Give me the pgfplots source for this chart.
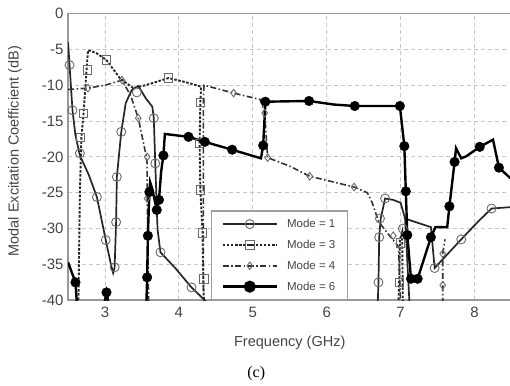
\documentclass[border=0pt]{standalone}
\usepackage{fontspec}
\setmainfont{Liberation Sans}
\newfontfamily\seriffont{Liberation Serif}
\usepackage{pgfplots}
\usepackage{pgfplotstable}
\pgfplotsset{compat=1.18}

% ---------------- Mode 1 ----------------
\pgfplotstableread{
x y
2.50 -4.0
2.52 -7.2
2.56 -13.5
2.60 -17.0
2.66 -19.8
2.78 -22.5
2.89 -25.6
3.01 -31.6
3.08 -35.0
3.11 -36.2
3.13 -35.4
3.15 -29.1
3.16 -22.8
3.22 -16.5
3.28 -12.5
3.36 -10.7
3.45 -10.1
3.55 -11.8
3.64 -13.0
3.66 -14.6
3.68 -20.9
3.71 -30.0
3.75 -33.3
3.95 -35.5
4.17 -38.2
4.40 -40.5
nan nan
6.69 -40.5
6.70 -37.5
6.71 -31.2
6.73 -28.6
6.79 -25.8
6.90 -26.0
7.00 -26.4
7.06 -28.6
7.41 -29.8
7.46 -35.5
7.55 -34.5
7.82 -31.5
8.05 -29.0
8.23 -27.2
8.50 -27.0
nan nan
7.06 -28.6
7.07 -30.5
7.12 -40.5
}\mOneLine
\pgfplotstableread{
x y
2.52 -7.2
2.56 -13.5
2.66 -19.5
2.89 -25.6
3.01 -31.6
3.13 -35.4
3.15 -29.1
3.16 -22.8
3.22 -16.5
3.43 -11.0
3.66 -14.6
3.68 -20.9
3.75 -33.3
4.17 -38.2
6.70 -37.5
6.71 -31.2
6.72 -28.6
6.79 -25.8
7.03 -30.0
7.46 -35.5
7.82 -31.5
8.23 -27.2
}\mOneMark
% ---------------- Mode 3 ----------------
\pgfplotstableread{
x y
2.64 -40.5
2.66 -25.0
2.68 -17.3
2.71 -13.9
2.75 -7.9
2.77 -5.1
2.88 -5.5
3.02 -6.5
3.20 -9.0
3.38 -10.4
3.55 -10.0
3.86 -9.0
4.10 -9.6
4.30 -10.2
4.29 -12.4
4.28 -18.1
4.29 -24.6
4.32 -30.6
4.33 -37.0
4.34 -40.5
nan nan
6.97 -40.5
6.98 -37.5
6.99 -31.6
7.02 -30.5
7.03 -40.5
}\mThreeLine
\pgfplotstableread{
x y
2.67 -17.3
2.71 -13.9
2.76 -7.9
3.02 -6.5
3.86 -9.0
4.29 -12.4
4.28 -18.1
4.29 -24.6
4.32 -30.6
4.34 -37.0
6.98 -37.5
7.00 -32.0
}\mThreeMark
% ---------------- Mode 4 ----------------
\pgfplotstableread{
x y
2.50 -10.6
2.77 -10.4
3.00 -10.0
3.23 -9.3
3.35 -11.5
3.45 -14.6
3.55 -19.5
3.57 -20.9
3.57 -25.8
3.58 -31.2
3.59 -40.5
nan nan
4.33 -40.5
4.33 -12.0
4.34 -10.0
4.74 -11.1
5.10 -12.0
5.16 -13.9
5.20 -20.1
5.50 -21.3
5.77 -22.7
6.37 -24.2
6.55 -25.0
6.62 -26.5
6.70 -29.0
6.85 -31.0
6.97 -32.5
7.00 -40.5
nan nan
7.57 -40.5
7.57 -37.9
7.57 -33.5
7.60 -31.5
}\mFourLine
\pgfplotstableread{
x y
2.77 -10.4
3.23 -9.3
3.45 -14.6
3.57 -20.0
3.57 -25.8
3.58 -31.2
4.74 -11.1
5.16 -13.9
5.20 -20.1
5.77 -22.7
6.37 -24.2
6.90 -31.0
7.57 -33.5
7.57 -37.9
}\mFourMark
% ---------------- Mode 6 ----------------
\pgfplotstableread{
x y
2.50 -34.7
2.60 -37.5
2.62 -40.5
nan nan
2.99 -40.5
3.02 -38.9
3.05 -40.5
nan nan
3.56 -40.5
3.57 -36.8
3.58 -31.0
3.60 -24.9
3.61 -23.5
3.64 -24.5
3.70 -27.4
3.73 -26.0
3.76 -22.0
3.79 -19.8
3.81 -16.8
4.13 -17.2
4.35 -17.9
4.72 -19.0
5.11 -20.2
5.14 -18.4
5.17 -12.3
5.76 -12.2
6.10 -12.7
6.38 -12.9
6.99 -12.9
7.05 -18.5
7.07 -24.8
7.09 -30.9
7.14 -37.0
7.23 -37.0
7.41 -31.2
7.47 -29.8
7.63 -29.8
7.66 -26.9
7.73 -20.7
7.75 -18.8
7.82 -20.2
7.89 -19.9
8.07 -18.6
8.25 -17.6
8.33 -21.5
8.52 -23.3
}\mSixLine
\pgfplotstableread{
x y
2.60 -37.5
3.02 -38.9
3.57 -36.8
3.58 -31.0
3.60 -24.9
3.70 -27.4
3.73 -26.0
3.79 -19.8
4.13 -17.2
4.35 -17.9
4.72 -19.0
5.14 -18.4
5.17 -12.3
5.76 -12.2
6.38 -12.9
6.99 -12.9
7.05 -18.5
7.07 -24.8
7.09 -30.9
7.14 -37.0
7.23 -37.0
7.41 -31.2
7.66 -26.9
7.73 -20.7
8.07 -18.6
8.33 -21.5
}\mSixMark

\definecolor{txt}{HTML}{454545}
\definecolor{mkgray}{HTML}{6A6A6A}

\pgfplotsset{
  m1l/.style={black!85, line width=1.7pt, solid},
  m1m/.style={mark=o, mark size=4.5pt, mark options={draw=mkgray, line width=0.9pt, solid, fill=none}},
  m3l/.style={black!85, line width=1.9pt, dash pattern=on 2.5pt off 1.6pt},
  m3m/.style={mark=square, mark size=4.2pt, mark options={draw=mkgray, line width=0.9pt, solid, fill=none}},
  m4l/.style={black!80, line width=1.6pt, dash pattern=on 6pt off 2.5pt on 1.5pt off 2.5pt},
  m4m/.style={mark=diamond, mark size=3.8pt, mark options={draw=mkgray, line width=0.9pt, solid, fill=none}},
  m6l/.style={black, line width=2.4pt, solid},
  m6m/.style={mark=*, mark size=4.8pt, mark options={draw=black, fill=black, solid}},
}

\begin{document}
\begin{tikzpicture}
\useasboundingbox (-68pt,-85pt) rectangle (441.5pt,300pt);
\begin{axis}[
  scale only axis,
  width=443pt, height=286.5pt,
  xmin=2.5, xmax=8.5, ymin=-40, ymax=0,
  xtick={3,4,5,6,7,8},
  ytick={0,-5,-10,-15,-20,-25,-30,-35,-40},
  major tick length=0pt,
  grid=major,
  major grid style={gray!45, line width=1pt, dash pattern=on 4pt off 3pt},
  axis line style={gray!80, line width=1.6pt},
  /pgf/number format/assume math mode=true,
  tick label style={font=\fontsize{15}{17}\selectfont, text=txt},
  xticklabel style={yshift=-3pt},
  yticklabel style={xshift=-1pt},
  xlabel={Frequency (GHz)},
  ylabel={Modal Excitation Coefficient (dB)},
  label style={font=\fontsize{14.5}{16}\selectfont, text=txt},
  xlabel style={at={(axis description cs:0.5,0)}, anchor=center, yshift=-42pt},
  ylabel style={at={(axis description cs:-0.12,0.52)}, anchor=center},
  unbounded coords=jump,
  legend cell align=left,
  legend image code/.code={\draw[mark repeat=2, mark phase=2, #1] plot coordinates {(0pt,0pt) (27pt,0pt) (54pt,0pt)};},
  legend style={at={(axis description cs:0.322,0)}, anchor=south west,
    draw=gray!75, line width=1.4pt, fill=white,
    font=\fontsize{11.5}{13}\selectfont, text=txt,
    inner xsep=10pt, inner ysep=6pt, row sep=7pt,
    /tikz/every odd column/.append style={column sep=7pt}},
]
\addlegendimage{m1l, m1m}
\addlegendentry{Mode = 1}
\addlegendimage{m3l, m3m}
\addlegendentry{Mode = 3}
\addlegendimage{m4l, m4m}
\addlegendentry{Mode = 4}
\addlegendimage{m6l, m6m}
\addlegendentry{Mode = 6}

\addplot[m1l, forget plot] table {\mOneLine};
\addplot[m3l, forget plot] table {\mThreeLine};
\addplot[m4l, forget plot] table {\mFourLine};
\addplot[m6l, forget plot] table {\mSixLine};

\addplot[only marks, m1m, forget plot] table {\mOneMark};
\addplot[only marks, m3m, forget plot] table {\mThreeMark};
\addplot[only marks, m4m, forget plot] table {\mFourMark};
\addplot[only marks, m6m, forget plot] table {\mSixMark};
\end{axis}
\node[font=\seriffont\fontsize{16}{18}\selectfont, text=black] at (188pt,-73pt) {(c)};
\end{tikzpicture}
\end{document}
